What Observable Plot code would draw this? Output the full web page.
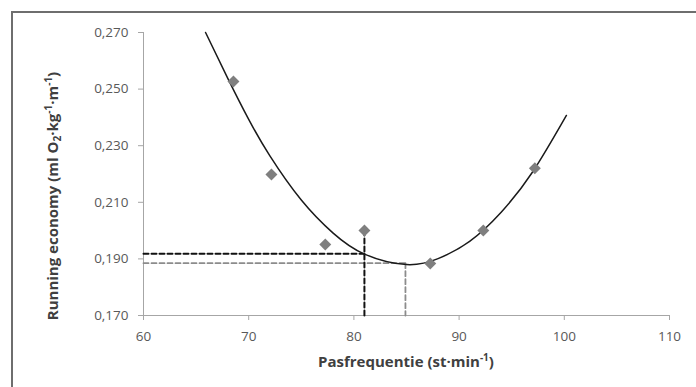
<!DOCTYPE html>
<html>
<head>
<meta charset="utf-8">
<script src="https://cdn.jsdelivr.net/npm/d3@7"></script>
<script src="https://cdn.jsdelivr.net/npm/@observablehq/plot@0.6"></script>
<style>
  html, body { margin: 0; padding: 0; background: #fff; }
  svg { display: block; }
</style>
</head>
<body>
<div id="chart"></div>
<script>
// Measured points (Pasfrequentie, Running economy)
const stepFreq = [68.55, 72.16, 77.28, 81.0, 87.26, 92.3, 97.2];
const runEcon  = [0.2527, 0.2198, 0.1951, 0.2000, 0.1884, 0.2000, 0.2220];

// Trend curve
const curveX = [65.9, 68, 70, 72, 75, 78, 81, 85, 88, 91, 94, 97, 100.2];
const curveY = [0.2700, 0.2539, 0.2393, 0.2265, 0.2108, 0.1992, 0.1917, 0.1880, 0.1901, 0.1962, 0.2065, 0.2208, 0.2407];

// Reference (dashed) lines
const blackH = [[60, 0.1918], [81.0, 0.1918]];
const blackV = [[81.0, 0.2000], [81.0, 0.170]];
const grayH  = [[60, 0.1885], [84.9, 0.1885]];
const grayV  = [[84.9, 0.1885], [84.9, 0.170]];

const xTicks = [60, 70, 80, 90, 100, 110];
const yTicks = [0.170, 0.190, 0.210, 0.230, 0.250, 0.270];

const pts = stepFreq.map((x, i) => ({x, y: runEcon[i]}));
const curve = curveX.map((x, i) => ({x, y: curveY[i]}));

const axisGray = "#a6a6a6";
const textGray = "#595959";

const plot = Plot.plot({
  width: 696,
  height: 387,
  marginLeft: 143,
  marginRight: 27,
  marginTop: 32,
  marginBottom: 72,
  style: {fontFamily: "'Open Sans', sans-serif", fontSize: "13.5px", color: textGray, background: "#fff"},
  x: {domain: [60, 110]},
  y: {domain: [0.170, 0.270]},
  marks: [
    Plot.ruleX([60], {stroke: axisGray, strokeWidth: 1}),
    Plot.ruleY([0.170], {stroke: axisGray, strokeWidth: 1}),
    Plot.axisX({ticks: xTicks, tickSize: 5, tickPadding: 11, stroke: axisGray, fill: textGray, label: null, tickFormat: d => String(d)}),
    Plot.axisY({ticks: yTicks, tickSize: 5, tickPadding: 10, stroke: axisGray, fill: textGray, label: null, tickFormat: d => d.toFixed(3).replace(".", ",")}),
    Plot.line(grayH, {x: d => d[0], y: d => d[1], stroke: "#8c8c8c", strokeWidth: 1.8, strokeDasharray: "5,3"}),
    Plot.line(grayV, {x: d => d[0], y: d => d[1], stroke: "#8c8c8c", strokeWidth: 1.8, strokeDasharray: "5,3"}),
    Plot.line(blackH, {x: d => d[0], y: d => d[1], stroke: "#111", strokeWidth: 2, strokeDasharray: "5,3"}),
    Plot.line(blackV, {x: d => d[0], y: d => d[1], stroke: "#111", strokeWidth: 2, strokeDasharray: "5,3"}),
    Plot.line(curve, {x: "x", y: "y", curve: "natural", stroke: "#1a1a1a", strokeWidth: 1.5}),
    Plot.dot(pts, {x: "x", y: "y", symbol: "diamond2", r: 5.4, fill: "#7f7f7f", stroke: "none"})
  ]
});

document.getElementById("chart").appendChild(plot);

const svg = d3.select(plot);
// outer frame (left and top edges visible)
svg.append("rect")
  .attr("x", 12).attr("y", 12).attr("width", 800).attr("height", 800)
  .attr("fill", "none").attr("stroke", "#6e6e6e").attr("stroke-width", 2);

// x axis title
const xt = svg.append("text")
  .attr("x", 406).attr("y", 367)
  .attr("text-anchor", "middle")
  .attr("font-family", "'Open Sans', sans-serif")
  .attr("font-weight", "bold").attr("font-size", 15).attr("fill", "#404040");
xt.append("tspan").text("Pasfrequentie (st·min");
xt.append("tspan").attr("font-size", 10).attr("dy", -6).text("-1");
xt.append("tspan").attr("dy", 6).text(")");

// y axis title
const yt = svg.append("text")
  .attr("transform", "translate(58,196) rotate(-90)")
  .attr("text-anchor", "middle")
  .attr("font-family", "'Open Sans', sans-serif")
  .attr("font-weight", "bold").attr("font-size", 15).attr("fill", "#404040");
yt.append("tspan").text("Running economy (ml O");
yt.append("tspan").attr("font-size", 10).attr("dy", 3).text("2");
yt.append("tspan").attr("dy", -3).text("·kg");
yt.append("tspan").attr("font-size", 10).attr("dy", -6).text("-1");
yt.append("tspan").attr("dy", 6).text("·m");
yt.append("tspan").attr("font-size", 10).attr("dy", -6).text("-1");
yt.append("tspan").attr("dy", 6).text(")");
</script>
</body>
</html>
